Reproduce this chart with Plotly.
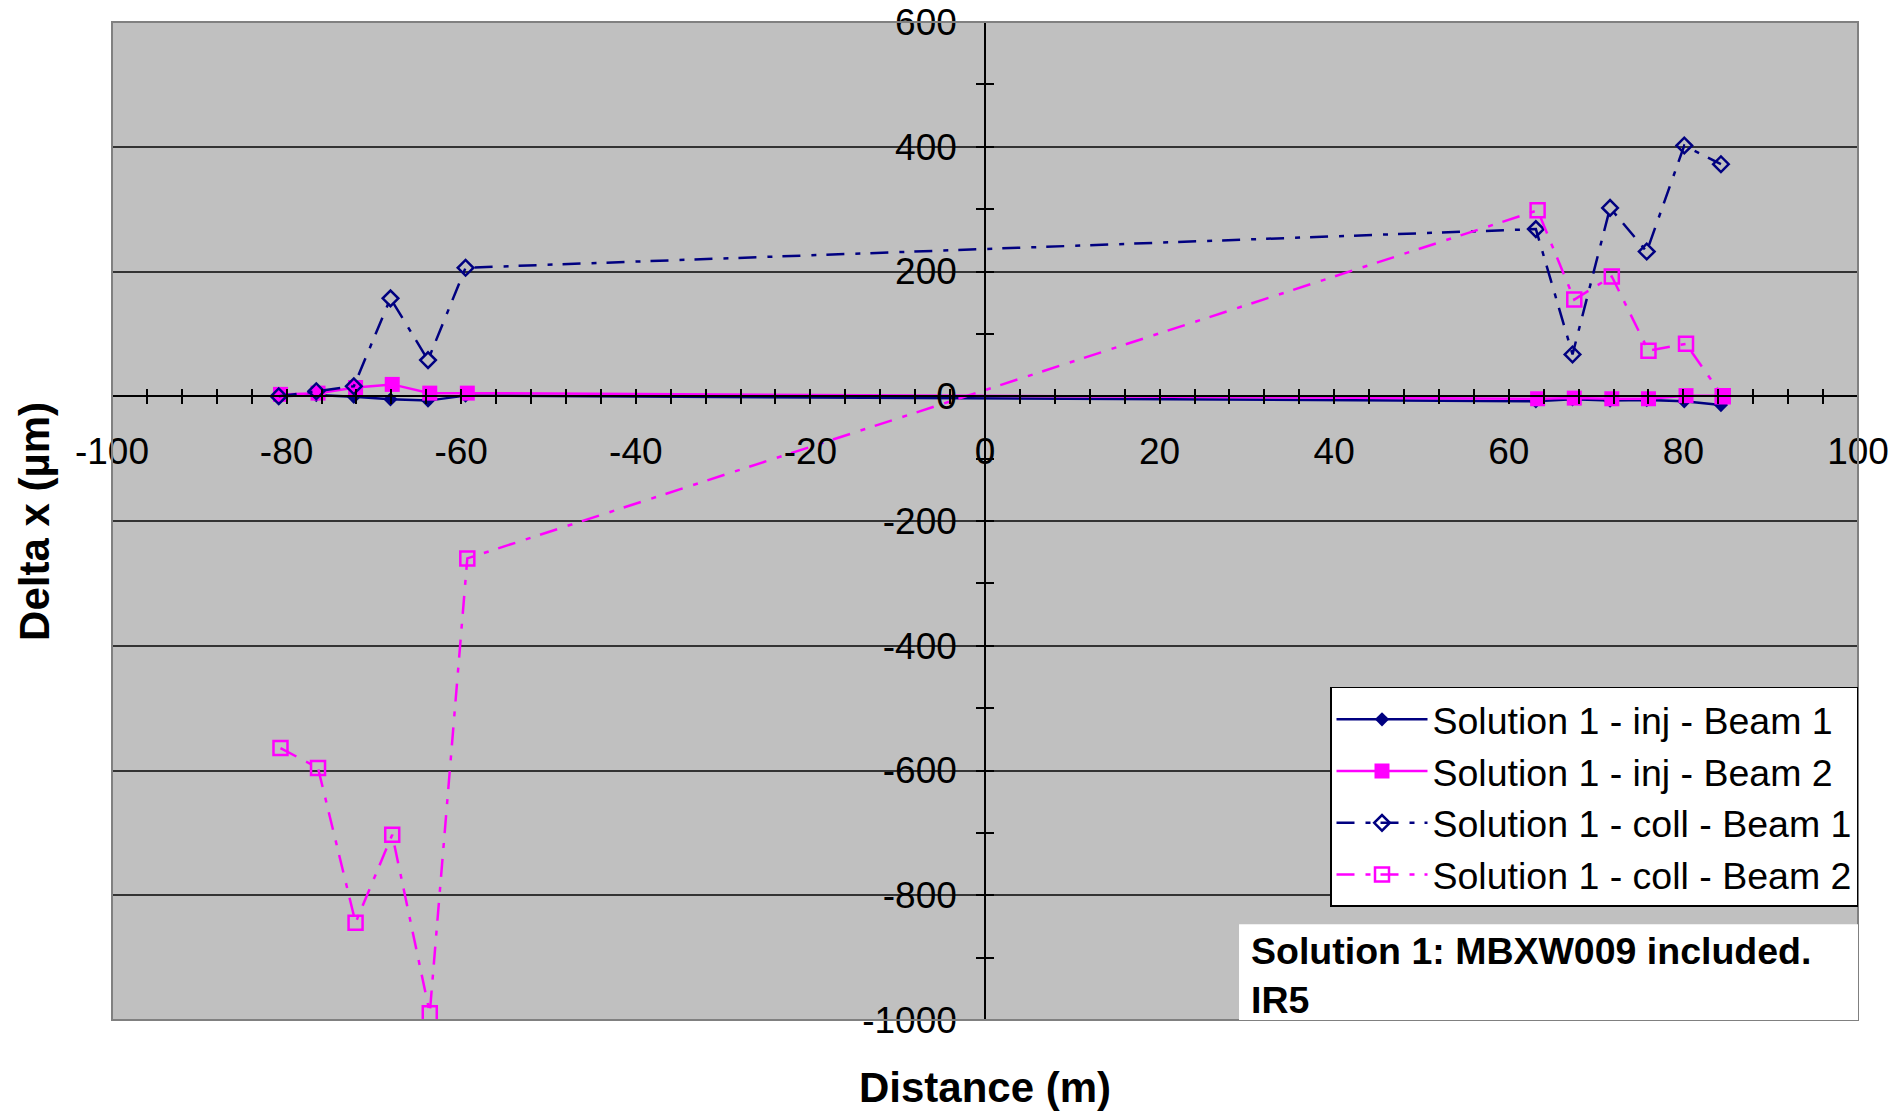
import plotly.graph_objects as go

# ---------------- data ----------------
x_beam1 = [-80.9, -76.6, -72.3, -68.1, -63.8, -59.5, 63.1, 67.3, 71.6, 75.8, 80.1, 84.3]
x_beam2 = [-80.7, -76.4, -72.1, -67.9, -63.6, -59.3, 63.3, 67.5, 71.8, 76.0, 80.3, 84.5]
inj_beam1 = [0, 2, -1, -5, -7, 1, -8, -5, -7, -6, -8, -14]
inj_beam2 = [3, 5, 14, 19, 5, 5, -4, -3, -4, -4, 1, 1]
coll_beam1 = [0, 8, 16, 157, 58, 206, 268, 67, 302, 232, 402, 372]
coll_beam2 = [-564, -596, -844, -703, -989, -260, 298, 155, 192, 73, 84, 0]

series_names = ["Solution 1 - inj - Beam 1", "Solution 1 - inj - Beam 2",
                "Solution 1 - coll - Beam 1", "Solution 1 - coll - Beam 2"]

x_tickvals = [-100, -80, -60, -40, -20, 0, 20, 40, 60, 80, 100]
x_ticktext = ["-100", "-80", "-60", "-40", "-20", "0", "20", "40", "60", "80", "100"]
y_tickvals = [-1000, -800, -600, -400, -200, 0, 200, 400, 600]
y_ticktext = ["-1000", "-800", "-600", "-400", "-200", "0", "200", "400", "600"]

x_title = "Distance (m)"
y_title = "Delta x (µm)"
note_text = "Solution 1: MBXW009 included.<br>IR5"

# ---------------- style ----------------
NAVY = "#000080"
MAGENTA = "#FF00FF"
FONT = "Arial, 'Liberation Sans', sans-serif"
DASHDOT = "18px,11px,5px,10px"

X_RANGE = [-100, 100]
Y_RANGE = [-1000, 600]
x_axis_pos = (0 - Y_RANGE[0]) / (Y_RANGE[1] - Y_RANGE[0])
y_axis_pos = (0 - X_RANGE[0]) / (X_RANGE[1] - X_RANGE[0])

fig = go.Figure()

fig.add_trace(go.Scatter(
    x=x_beam1, y=inj_beam1, name=series_names[0], mode="lines+markers",
    line=dict(color=NAVY, width=2.5),
    marker=dict(symbol="diamond", size=11, color=NAVY, line=dict(width=0)),
))
fig.add_trace(go.Scatter(
    x=x_beam2, y=inj_beam2, name=series_names[1], mode="lines+markers",
    line=dict(color=MAGENTA, width=2.5),
    marker=dict(symbol="square", size=15, color=MAGENTA, line=dict(width=0)),
))
fig.add_trace(go.Scatter(
    x=x_beam1, y=coll_beam1, name=series_names[2], mode="lines+markers",
    line=dict(color=NAVY, width=2.5, dash=DASHDOT),
    marker=dict(symbol="diamond-open", size=12, color=NAVY, line=dict(width=2.5, color=NAVY)),
))
fig.add_trace(go.Scatter(
    x=x_beam2, y=coll_beam2, name=series_names[3], mode="lines+markers",
    line=dict(color=MAGENTA, width=2.5, dash=DASHDOT),
    marker=dict(symbol="square-open", size=14, color=MAGENTA, line=dict(width=2.5, color=MAGENTA)),
))
# dummy trace so overlay axes (inner half of crossing ticks) get drawn
fig.add_trace(go.Scatter(x=[None], y=[None], xaxis="x2", yaxis="y2",
                         showlegend=False, hoverinfo="skip"))

tickfont = dict(family=FONT, size=37, color="black")

fig.update_layout(
    width=1891, height=1111,
    margin=dict(l=112, r=33, t=22, b=91, autoexpand=False),
    paper_bgcolor="white",
    plot_bgcolor="#C0C0C0",
    font=dict(family=FONT, color="black"),
    xaxis=dict(
        range=X_RANGE, anchor="free", position=x_axis_pos, automargin=False,
        tickmode="array", tickvals=x_tickvals, ticktext=x_ticktext,
        ticks="outside", ticklen=7, tickwidth=1.5, tickcolor="black",
        minor=dict(tickmode="linear", tick0=0, dtick=4, ticks="outside", ticklen=7,
                   tickwidth=1.5, tickcolor="black", showgrid=False),
        showline=True, linecolor="black", linewidth=1.5,
        showgrid=False, zeroline=False, tickfont=tickfont,
        ticklabelstandoff=16, ticklabeloverflow="allow",
    ),
    yaxis=dict(
        range=Y_RANGE, anchor="free", position=y_axis_pos, automargin=False,
        tickmode="array", tickvals=y_tickvals, ticktext=y_ticktext,
        ticks="outside", ticklen=8, tickwidth=1.5, tickcolor="black",
        minor=dict(tickmode="linear", tick0=0, dtick=100, ticks="outside", ticklen=8,
                   tickwidth=1.5, tickcolor="black", showgrid=False),
        showline=True, linecolor="black", linewidth=1.5,
        showgrid=True, gridcolor="#333333", gridwidth=1.5,
        zeroline=False, tickfont=tickfont,
        ticklabelstandoff=12, ticklabeloverflow="allow",
    ),
    xaxis2=dict(
        range=X_RANGE, overlaying="x", anchor="free", position=x_axis_pos, automargin=False,
        tickmode="linear", tick0=0, dtick=4, ticks="inside", ticklen=7,
        tickwidth=1.5, tickcolor="black", showticklabels=False,
        showline=False, showgrid=False, zeroline=False,
    ),
    yaxis2=dict(
        range=Y_RANGE, overlaying="y", anchor="free", position=y_axis_pos, automargin=False,
        tickmode="linear", tick0=0, dtick=100, ticks="inside", ticklen=8,
        tickwidth=1.5, tickcolor="black", showticklabels=False,
        showline=False, showgrid=False, zeroline=False,
    ),
    legend=dict(
        x=1, xanchor="right", y=0.3337, yanchor="top",
        bgcolor="white", bordercolor="black", borderwidth=1.5,
        font=dict(family=FONT, size=37.5, color="black"),
        itemwidth=91, tracegroupgap=0,
    ),
    showlegend=True,
)

# plot-area border and note box
fig.add_shape(type="rect", xref="paper", yref="paper", x0=0, x1=1, y0=0, y1=1,
              line=dict(color="#808080", width=2), fillcolor="rgba(0,0,0,0)", layer="above")
fig.add_shape(type="rect", xref="paper", yref="paper", x0=0.6455, x1=1, y0=0, y1=0.096,
              line=dict(width=0), fillcolor="white", layer="above")

fig.add_annotation(text=note_text, xref="paper", yref="paper", x=0.651, y=0.092,
                   xanchor="left", yanchor="top", align="left", showarrow=False,
                   font=dict(family=FONT, size=37.5, color="black", weight="bold"))
fig.add_annotation(text=x_title, xref="paper", yref="paper", x=0.5, y=-0.068,
                   xanchor="center", yanchor="middle", showarrow=False,
                   font=dict(family=FONT, size=42, color="black", weight="bold"))
fig.add_annotation(text=y_title, xref="paper", yref="paper", x=-0.0447, y=0.5,
                   xanchor="center", yanchor="middle", textangle=-90, showarrow=False,
                   font=dict(family=FONT, size=42, color="black", weight="bold"))

fig.write_html(
    "out.html",
    config={"displayModeBar": False},
    post_script="document.body.style.margin='0';document.body.style.overflow='hidden';",
)
